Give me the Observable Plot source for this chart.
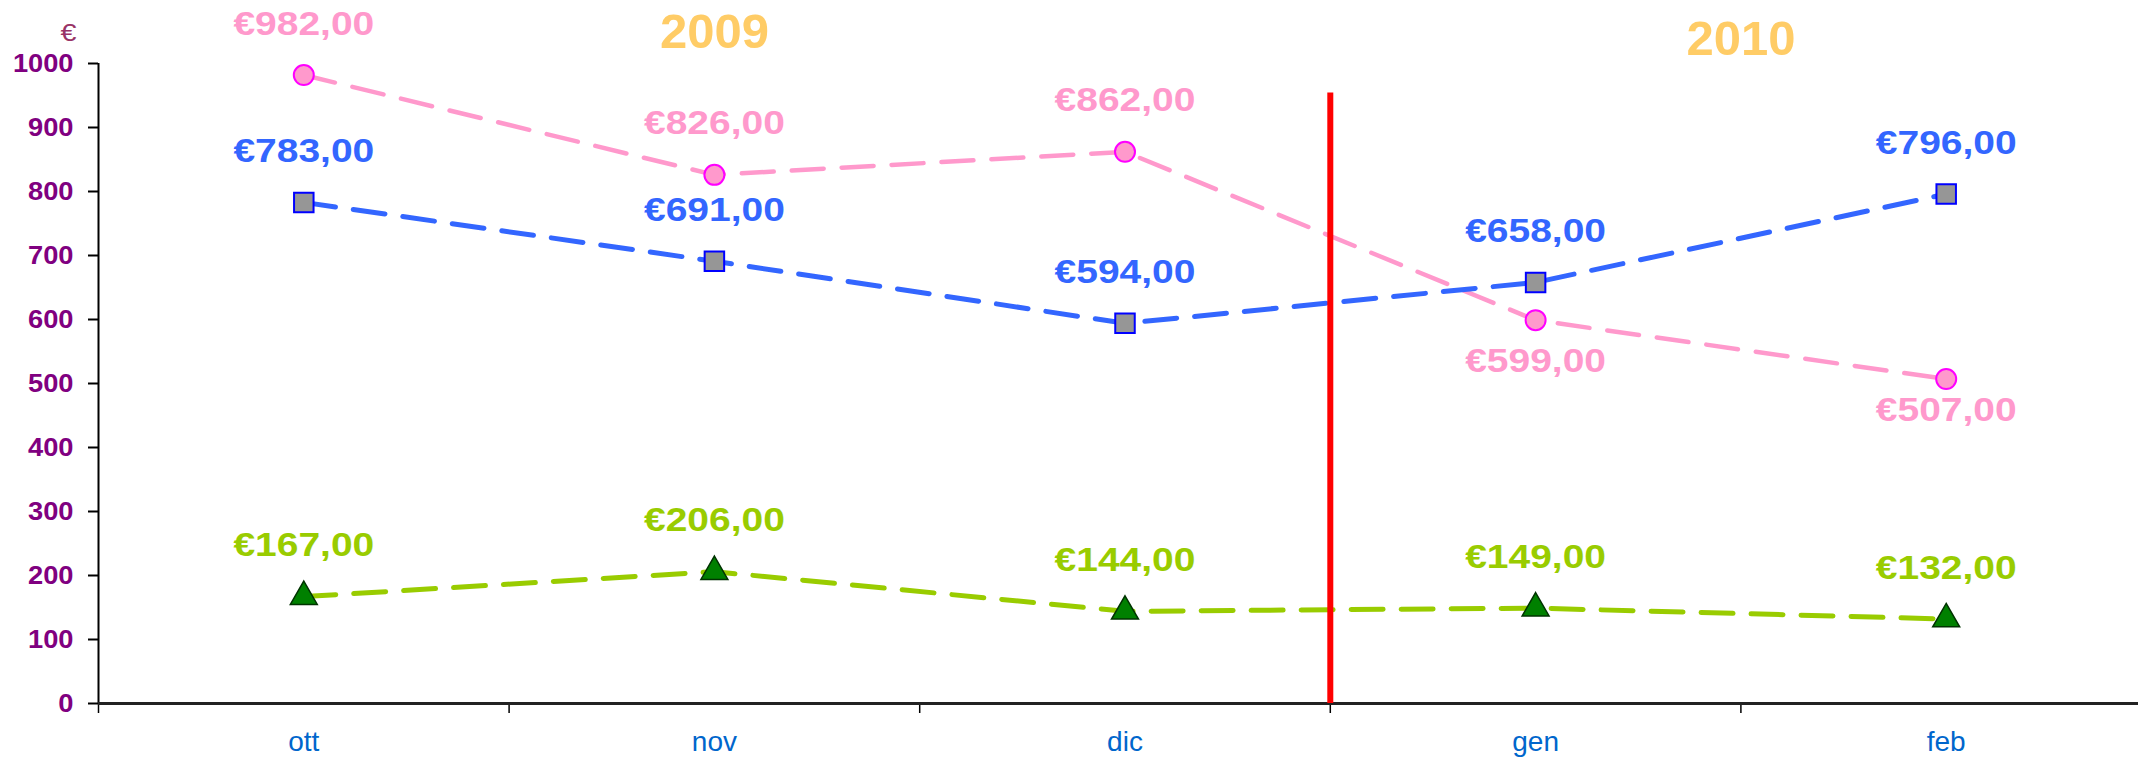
<!DOCTYPE html>
<html>
<head>
<meta charset="utf-8">
<script src="https://cdn.jsdelivr.net/npm/d3@7"></script>
<script src="https://cdn.jsdelivr.net/npm/@observablehq/plot@0.6"></script>
<style>
  html, body { margin: 0; padding: 0; background: #fff; overflow: hidden; }
  #chart svg { display: block; }
</style>
</head>
<body>
<div id="chart"></div>
<script>
// ---- data ----
const months = ["ott", "nov", "dic", "gen", "feb"];
const seriesPink = [982, 826, 862, 599, 507];
const seriesBlue = [783, 691, 594, 658, 796];
const seriesGreen = [167, 206, 144, 149, 132];
const yTicks = [0, 100, 200, 300, 400, 500, 600, 700, 800, 900, 1000];
const years = ["2009", "2010"];
const yearUnit = "€";

// ---- helpers ----
const fmt = v => "€" + d3.format(".2f")(v).replace(".", ",");
const rows = vals => vals.map((v, i) => ({x: i + 0.5, month: months[i], value: v, label: fmt(v)}));
const pink = rows(seriesPink);
const blue = rows(seriesBlue);
const green = rows(seriesGreen);
const boundaries = d3.range(months.length + 1);
const centers = months.map((m, i) => i + 0.5);

const labelFont = {fontSize: 33, fontWeight: "bold", lineAnchor: "middle", textAnchor: "middle"};
const dash = "32,18";

const chart = Plot.plot({
  width: 2138,
  height: 759,
  marginLeft: 98,
  marginRight: 0,
  marginTop: 63,
  marginBottom: 56,
  style: {fontFamily: "'Liberation Sans', Arial, sans-serif", background: "#fff", overflow: "hidden"},
  x: {type: "linear", domain: [0, months.length], range: [98, 2151]},
  y: {domain: [0, 1000]},
  marks: [
    // axes
    Plot.axisY({ticks: yTicks, tickSize: 10, tickPadding: 15, tickFormat: d => String(d),
      fontSize: 25, fontWeight: "bold", fill: "#800080", strokeWidth: 2, label: null}),
    Plot.axisX({ticks: boundaries, tickSize: 10, tickFormat: () => "", strokeWidth: 1.5, label: null}),
    Plot.axisX({ticks: centers, tickSize: 0, tickPadding: 28, tickFormat: d => months[Math.floor(d)],
      fontSize: 28, fill: "#0066CC", label: null}),
    Plot.ruleX([0], {y1: 0, y2: 1000, stroke: "#000", strokeWidth: 2}),
    Plot.ruleY([0], {stroke: "#222", strokeWidth: 3}),
    Plot.text([yearUnit], {frameAnchor: "top-left", dx: -30, dy: -30, fontSize: 24, fill: "#993366",
      textAnchor: "middle", lineAnchor: "middle"}),

    // series lines
    Plot.line(pink, {x: "x", y: "value", stroke: "#FF99CC", strokeWidth: 4.5, strokeDasharray: dash}),
    Plot.line(blue, {x: "x", y: "value", stroke: "#3366FF", strokeWidth: 5, strokeDasharray: dash}),
    Plot.line(green, {x: "x", y: "value", stroke: "#99CC00", strokeWidth: 5, strokeDasharray: dash}),

    // year divider
    Plot.ruleX([3], {y1: 0, y2: 960, stroke: "#FF0000", strokeWidth: 6, insetBottom: -4}),

    // markers
    Plot.dot(pink, {x: "x", y: "value", r: 10, fill: "#FF99CC", stroke: "#FF00FF", strokeWidth: 2}),
    Plot.dot(blue, {x: "x", y: "value", symbol: "square", r: 11, fill: "#969696", stroke: "#0000FF", strokeWidth: 2}),
    Plot.dot(green, {x: "x", y: "value", symbol: "triangle", r: 10, fill: "#008000", stroke: "#003300", strokeWidth: 1.5}),

    // data labels
    Plot.text(pink.slice(0, 3), {x: "x", y: "value", text: "label", dy: -51, fill: "#FF99CC", ...labelFont}),
    Plot.text(pink.slice(3, 4), {x: "x", y: "value", text: "label", dy: 41, fill: "#FF99CC", ...labelFont}),
    Plot.text(pink.slice(4, 5), {x: "x", y: "value", text: "label", dy: 31, fill: "#FF99CC", ...labelFont}),
    Plot.text(blue, {x: "x", y: "value", text: "label", dy: -51, fill: "#3366FF", ...labelFont}),
    Plot.text(green, {x: "x", y: "value", text: "label", dy: -51, fill: "#99CC00", ...labelFont}),

    // year headings
    Plot.text(years.slice(0, 1), {x: [1.5], frameAnchor: "top", dy: -31, fontSize: 49, fontWeight: "bold",
      fill: "#FFCC66", lineAnchor: "middle", textAnchor: "middle"}),
    Plot.text(years.slice(1, 2), {x: [4], frameAnchor: "top", dy: -24, fontSize: 49, fontWeight: "bold",
      fill: "#FFCC66", lineAnchor: "middle", textAnchor: "middle"})
  ]
});

document.getElementById("chart").append(chart);

// the original's bold labels are drawn slightly wider than the font's natural width
function stretchTexts(filter, factor) {
  chart.querySelectorAll("text").forEach(t => {
    if (!filter(t)) return;
    const L = t.getComputedTextLength();
    if (L > 0) {
      t.setAttribute("textLength", (L * factor).toFixed(1));
      t.setAttribute("lengthAdjust", "spacingAndGlyphs");
    }
  });
}
stretchTexts(t => /^€\d/.test(t.textContent), 1.18);
stretchTexts(t => t.textContent === yearUnit, 1.2);
stretchTexts(t => t.closest('g[aria-label="y-axis tick label"]') !== null, 1.09);
</script>
</body>
</html>
